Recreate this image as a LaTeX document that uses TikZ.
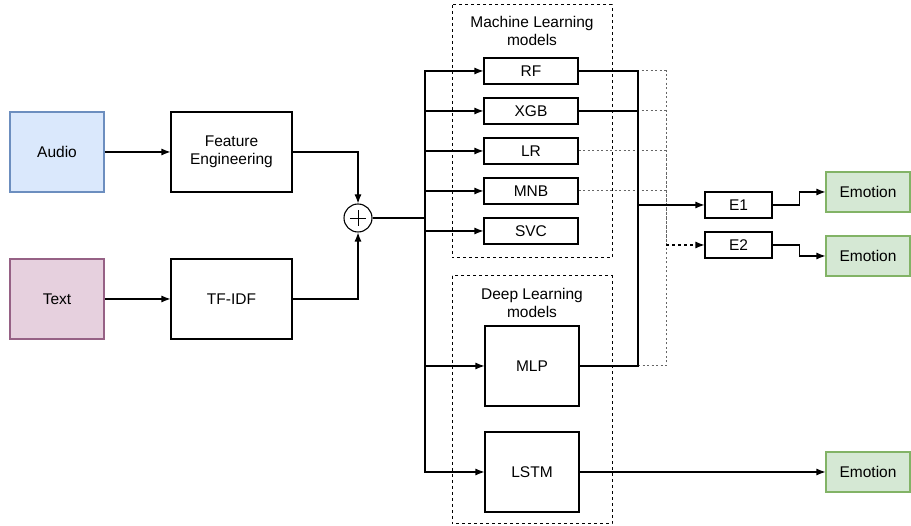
\documentclass[tikz,border=0pt]{standalone}
\usepackage{fontspec}
\setmainfont{Liberation Sans}
\usetikzlibrary{arrows.meta}
\begin{document}
\begin{tikzpicture}[x=1pt,y=-1pt,
  font=\fontsize{15.5}{18}\selectfont,
  every node/.style={inner sep=0pt, align=center},
  stage/.style={draw, line width=1.1pt, minimum width=121pt, minimum height=80pt},
  model/.style={draw, line width=1.1pt, minimum width=94pt, minimum height=26pt},
  bigmodel/.style={draw, line width=1.1pt, minimum width=94pt, minimum height=80pt},
  ens/.style={draw, line width=1.1pt, minimum width=67pt, minimum height=26pt},
  source/.style={draw, line width=1.1pt, minimum width=94pt, minimum height=80pt},
  outbox/.style={line width=1.1pt, minimum width=84pt, minimum height=40pt, draw={rgb,255:red,130;green,179;blue,102}, fill={rgb,255:red,213;green,232;blue,212}},
  group/.style={draw, line width=1pt, dash pattern=on 3pt off 3pt},
  link/.style={line width=1.1pt, -{Latex[length=9pt,width=7pt]}},
  wire/.style={line width=1.1pt},
  faint/.style={line width=1pt, draw=black!60, dash pattern=on 2pt off 2.5pt},
]
\useasboundingbox (0,0) rectangle (911,526);

% model groups
\draw[group] (452,5) rectangle (612,258);
\draw[group] (452,276) rectangle (612,524);
\node (mltitle) at (532,31) {Machine Learning\\models};
\node (dltitle) at (532,303) {Deep Learning\\models};

% inputs
\node[source, draw={rgb,255:red,108;green,142;blue,191}, fill={rgb,255:red,218;green,232;blue,252}] (audio) at (57,152) {Audio};
\node[source, draw={rgb,255:red,150;green,97;blue,133}, fill={rgb,255:red,230;green,208;blue,222}] (text) at (57,299) {Text};
\node[stage] (fe) at (231.5,152) {Feature\\Engineering};
\node[stage] (tfidf) at (231.5,299) {TF-IDF};

% fusion
\node[draw, circle, line width=1.1pt, minimum size=28pt] (sum) at (358,218) {};
\draw[line width=0.9pt] ([xshift=-8pt]sum.center) -- ([xshift=8pt]sum.center);
\draw[line width=0.9pt] ([yshift=-8pt]sum.center) -- ([yshift=8pt]sum.center);

% models
\node[model] (rf) at (531,71) {RF};
\node[model] (xgb) at (531,111) {XGB};
\node[model] (lr) at (531,151) {LR};
\node[model] (mnb) at (531,191) {MNB};
\node[model] (svc) at (531,231) {SVC};
\node[bigmodel] (mlp) at (532,366) {MLP};
\node[bigmodel] (lstm) at (532,472) {LSTM};

% ensembles and outputs
\node[ens] (e1) at (738.5,205) {E1};
\node[ens] (e2) at (738.5,245) {E2};
\node[outbox] (em1) at (868,192) {Emotion};
\node[outbox] (em2) at (868,256) {Emotion};
\node[outbox] (em3) at (868,472) {Emotion};

% junction points
\coordinate (bus) at (425,218);
\coordinate (j1) at (638,205);
\coordinate (j2) at (666,245);

% input paths
\draw[link] (audio) -- (fe);
\draw[link] (text) -- (tfidf);
\draw[link] (fe.east) -| (sum);
\draw[link] (tfidf.east) -| (sum);
\draw[wire] (sum) -- (bus);
\foreach \m in {rf,xgb,lr,mnb,svc,mlp,lstm}
  \draw[link] (bus) |- (\m);

% ensemble E2 (dotted)
\foreach \m in {rf,xgb,lr,mnb,mlp}
  \draw[faint] (\m.east) -| (j2);
\draw[link, dash pattern=on 3pt off 3pt] (j2) -- (e2);

% ensemble E1 (solid)
\foreach \m in {rf,xgb,mlp}
  \draw[wire] (\m.east) -| (j1);
\draw[link] (j1) -- (e1);

% outputs
\draw[link] (e1.east) -- ++(27,0) |- (em1);
\draw[link] (e2.east) -- ++(27,0) |- (em2);
\draw[link] (lstm) -- (em3);
\end{tikzpicture}
\end{document}
